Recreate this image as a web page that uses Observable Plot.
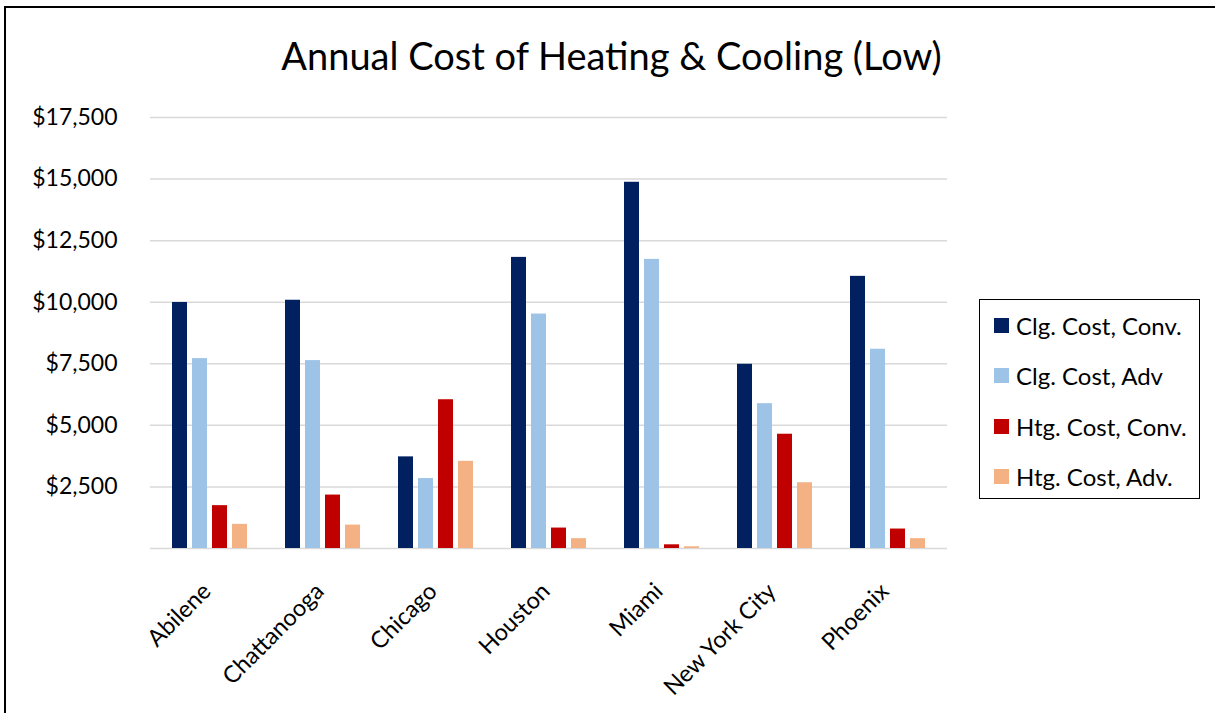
<!DOCTYPE html>
<html>
<head>
<meta charset="utf-8">
<script src="https://cdn.jsdelivr.net/npm/d3@7"></script>
<script src="https://cdn.jsdelivr.net/npm/@observablehq/plot@0.6"></script>
<style>
  body { margin: 0; background: #fff; }
  #chart { position: relative; width: 1215px; height: 713px; overflow: hidden; font-family: Lato, "Open Sans", sans-serif; color: #000; }
  #frame { position: absolute; left: 4px; top: 6px; width: 1400px; height: 900px; border-left: 2.5px solid #000; border-top: 2.5px solid #000; }
  #title { position: absolute; left: 0; top: 32px; width: 1223px; text-align: center; font-size: 38px; white-space: nowrap; }
  .layer { position: absolute; left: 0; top: 0; }
  #legend { position: absolute; left: 979px; top: 299px; width: 219px; height: 198px; border: 1.5px solid #000; }
  .row { position: absolute; left: 14px; height: 30px; display: flex; align-items: center; font-size: 24px; white-space: nowrap; }
  .sw { width: 15px; height: 15px; margin-right: 7px; flex: none; }
</style>
</head>
<body>
<div id="chart">
  <div id="frame"></div>
  <div id="grid" class="layer"></div>
  <div id="bars" class="layer"></div>
  <div id="title">Annual Cost of Heating &amp; Cooling (Low)</div>
  <div id="legend"></div>
</div>
<script>
// Cities along the horizontal axis
const cities = ["Abilene", "Chattanooga", "Chicago", "Houston", "Miami", "New York City", "Phoenix"];
// The four cost series, in legend order
const series = ["Clg. Cost, Conv.", "Clg. Cost, Adv", "Htg. Cost, Conv.", "Htg. Cost, Adv."];
const seriesColors = ["#002060", "#9DC3E6", "#C00000", "#F4B183"];

// Annual costs in dollars, one value per city
const clgConv = [9990, 10080, 3720, 11820, 14870, 7480, 11050];
const clgAdv  = [7710, 7630, 2840, 9520, 11740, 5880, 8090];
const htgConv = [1740, 2170, 6040, 830, 150, 4640, 790];
const htgAdv  = [980, 950, 3540, 400, 70, 2670, 400];

// Value axis ticks
const gridTicks = [0, 2500, 5000, 7500, 10000, 12500, 15000, 17500];
const labelTicks = [2500, 5000, 7500, 10000, 12500, 15000, 17500];

const seriesValues = [clgConv, clgAdv, htgConv, htgAdv];
const rows = [];
cities.forEach((city, i) => {
  series.forEach((s, j) => rows.push({ city, series: s, value: seriesValues[j][i] }));
});

const fmt = d3.format(",");
const font = "Lato, 'Open Sans', sans-serif";

// Shared frame for both layers
const frame = {
  width: 1215,
  height: 713,
  marginLeft: 150,
  marginRight: 268,
  marginTop: 117,
  marginBottom: 165,
  style: { fontFamily: font, fontSize: "23px", color: "#000", background: "transparent", overflow: "visible" },
  y: { domain: [0, 17500], label: null }
};

// Back layer: horizontal gridlines spanning the whole plot area, and the dollar axis
const gridPlot = Plot.plot({
  ...frame,
  x: { domain: [0, 1], axis: null },
  marks: [
    Plot.ruleY(gridTicks, { stroke: "#d9d9d9", strokeWidth: 1.5 }),
    Plot.axisY(labelTicks, { tickSize: 0, tickPadding: 33, tickFormat: d => "$" + fmt(d), label: null })
  ]
});
document.getElementById("grid").appendChild(gridPlot);

// Front layer: clustered bars, one facet per city
const barPlot = Plot.plot({
  ...frame,
  fx: { domain: cities, paddingInner: 0.315, paddingOuter: 0.1575, label: null },
  x: { domain: series, paddingInner: 0.23, paddingOuter: 0, axis: null },
  color: { domain: series, range: seriesColors },
  marks: [
    Plot.barY(rows, { fx: "city", x: "series", y: "value", fill: "series" }),
    Plot.axisFx({ anchor: "bottom", tickRotate: -45, tickSize: 0, tickPadding: 39, dx: -3, fontSize: 23.5, label: null })
  ]
});
barPlot.querySelectorAll('[aria-label="y-axis tick"], [aria-label="y-axis tick label"]').forEach(n => n.remove());
document.getElementById("bars").appendChild(barPlot);

// Legend box
const legend = document.getElementById("legend");
const rowTops = [10, 60, 111, 161];
series.forEach((s, j) => {
  const row = document.createElement("div");
  row.className = "row";
  row.style.top = rowTops[j] + "px";
  const sw = document.createElement("div");
  sw.className = "sw";
  sw.style.background = seriesColors[j];
  const label = document.createElement("span");
  label.textContent = s;
  row.appendChild(sw);
  row.appendChild(label);
  legend.appendChild(row);
});
</script>
</body>
</html>
